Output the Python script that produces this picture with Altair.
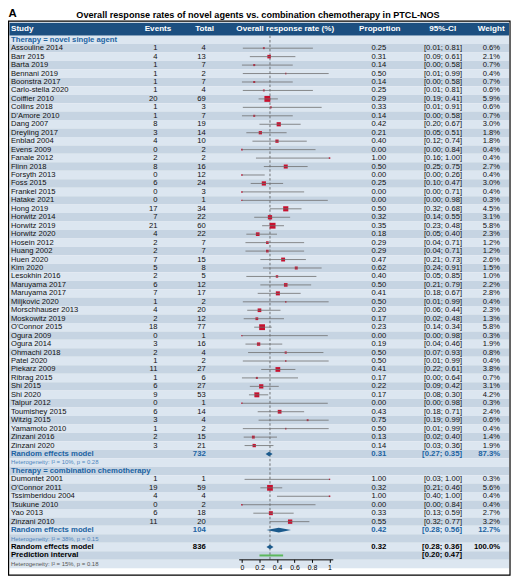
import altair as alt
import pandas as pd

FONT = "Arial"

# novel single agent studies
novel_study = ["Assouline 2014", "Barr 2015", "Barta 2019", "Bennani 2019", "Boonstra 2017",
               "Carlo-stella 2020", "Coiffier 2010", "Collins 2018", "D'Amore 2010", "Dang 2007",
               "Dreyling 2017", "Enblad 2004", "Evens 2009", "Fanale 2012", "Flinn 2018",
               "Forsyth 2013", "Foss 2015", "Frankel 2015", "Hatake 2021", "Hong 2019",
               "Horwitz 2014", "Horwitz 2019", "Horwitz 2020", "Hosein 2012", "Huang 2002",
               "Huen 2020", "Kim 2020", "Lesokhin 2016", "Maruyama 2017", "Maruyama 2017",
               "Miljkovic 2020", "Morschhauser 2013", "Moskowitz 2019", "O'Connor 2015", "Ogura 2009",
               "Ogura 2014", "Ohmachi 2018", "Patel 2020", "Piekarz 2009", "Ribrag 2015",
               "Shi 2015", "Shi 2020", "Talpur 2012", "Toumishey 2015", "Witzig 2015",
               "Yamamoto 2010", "Zinzani 2016", "Zinzani 2020"]
novel_events = [1, 4, 1, 1, 1, 1, 20, 1, 1, 8, 3, 4, 0, 2, 8, 0, 6, 0, 0, 17,
                7, 21, 4, 2, 2, 7, 5, 2, 6, 7, 1, 4, 2, 18, 0, 3, 2, 1, 11, 1,
                6, 9, 0, 6, 3, 1, 2, 3]
novel_total = [4, 13, 7, 2, 7, 4, 69, 3, 7, 19, 14, 10, 2, 2, 16, 12, 24, 3, 1, 34,
               22, 60, 22, 7, 7, 15, 8, 5, 12, 17, 2, 20, 12, 77, 1, 16, 4, 2, 27, 6,
               27, 53, 1, 14, 4, 2, 15, 21]
novel_prop = [0.25, 0.31, 0.14, 0.50, 0.14, 0.25, 0.29, 0.33, 0.14, 0.42, 0.21, 0.40, 0.00, 1.00, 0.50,
              0.00, 0.25, 0.00, 0.00, 0.50, 0.32, 0.35, 0.18, 0.29, 0.29, 0.47, 0.62, 0.40, 0.50, 0.41,
              0.50, 0.20, 0.17, 0.23, 0.00, 0.19, 0.50, 0.50, 0.41, 0.17, 0.22, 0.17, 0.00, 0.43, 0.75,
              0.50, 0.13, 0.14]
novel_lo = [0.01, 0.09, 0.00, 0.01, 0.00, 0.01, 0.19, 0.01, 0.00, 0.20, 0.05, 0.12, 0.00, 0.16, 0.25,
            0.00, 0.10, 0.00, 0.00, 0.32, 0.14, 0.23, 0.05, 0.04, 0.04, 0.21, 0.24, 0.05, 0.21, 0.18,
            0.01, 0.06, 0.02, 0.14, 0.00, 0.04, 0.07, 0.01, 0.22, 0.00, 0.09, 0.08, 0.00, 0.18, 0.19,
            0.01, 0.02, 0.03]
novel_hi = [0.81, 0.61, 0.58, 0.99, 0.58, 0.81, 0.41, 0.91, 0.58, 0.67, 0.51, 0.74, 0.84, 1.00, 0.75,
            0.26, 0.47, 0.71, 0.98, 0.68, 0.55, 0.48, 0.40, 0.71, 0.71, 0.73, 0.91, 0.85, 0.79, 0.67,
            0.99, 0.44, 0.48, 0.34, 0.98, 0.46, 0.93, 0.99, 0.61, 0.64, 0.42, 0.30, 0.98, 0.71, 0.99,
            0.99, 0.40, 0.36]
novel_weight = [0.6, 2.1, 0.7, 0.4, 0.7, 0.6, 5.9, 0.6, 0.7, 3.0, 1.8, 1.8, 0.4, 0.4, 2.7,
                0.4, 3.0, 0.4, 0.3, 4.5, 3.1, 5.8, 2.3, 1.2, 1.2, 2.6, 1.5, 1.0, 2.2, 2.8,
                0.4, 2.3, 1.3, 5.8, 0.3, 1.9, 0.8, 0.4, 3.8, 0.7, 3.1, 4.2, 0.3, 2.4, 0.6,
                0.4, 1.4, 1.9]

# combination chemotherapy studies
combo_study = ["Dumontet 2001", "O'Connor 2011", "Tssimberidou 2004", "Tsukune 2010", "Yao 2013", "Zinzani 2010"]
combo_events = [1, 19, 4, 0, 6, 11]
combo_total = [1, 59, 4, 2, 18, 20]
combo_prop = [1.00, 0.32, 1.00, 0.00, 0.33, 0.55]
combo_lo = [0.03, 0.21, 0.40, 0.00, 0.13, 0.32]
combo_hi = [1.00, 0.46, 1.00, 0.84, 0.59, 0.77]
combo_weight = [0.3, 5.6, 0.4, 0.4, 2.7, 3.2]

# random effects models: novel, combination, overall
re_total = [732, 104, 836]
re_prop = [0.31, 0.42, 0.32]
re_lo = [0.27, 0.28, 0.28]
re_hi = [0.35, 0.56, 0.36]
re_weight = [87.3, 12.7, 100.0]
pred_lo, pred_hi = 0.20, 0.47
het_text = ["Heterogeneity: I\u00b2 = 10%, p = 0.28",
            "Heterogeneity: I\u00b2 = 38%, p = 0.15",
            "Heterogeneity: I\u00b2 = 15%, p = 0.18"]
group_text = ["Therapy = novel single agent", "Therapy = combination chemotherapy"]

BLUE = "#2063a2"
RED = "#c8102e"


def ci_str(lo, hi):
    return f"[{lo:.2f}; {hi:.2f}]"


rows = []


def add(kind, study="", events="", total="", prop="", ci="", weight="", est=None, lo=None, hi=None, w=None):
    rows.append(dict(row=len(rows), kind=kind, study=study, events=events, total=total,
                     prop=prop, ci=ci, weight=weight, est=est, lo=lo, hi=hi, w=w))


def add_group(idx, study, events, total, prop, lo, hi, weight):
    add("group", study=group_text[idx])
    for s, e, t, p, l, h, w in zip(study, events, total, prop, lo, hi, weight):
        add("study", s, str(e), str(t), f"{p:.2f}", ci_str(l, h), f"{w:.1f}%", p, l, h, w)
    add("summary", "Random effects model", total=str(re_total[idx]), prop=f"{re_prop[idx]:.2f}",
        ci=ci_str(re_lo[idx], re_hi[idx]), weight=f"{re_weight[idx]:.1f}%")
    add("het", het_text[idx])


add_group(0, novel_study, novel_events, novel_total, novel_prop, novel_lo, novel_hi, novel_weight)
add_group(1, combo_study, combo_events, combo_total, combo_prop, combo_lo, combo_hi, combo_weight)
add("overall", "Random effects model", total=str(re_total[2]), prop=f"{re_prop[2]:.2f}",
    ci=ci_str(re_lo[2], re_hi[2]), weight=f"{re_weight[2]:.1f}%")
add("overall", "Prediction interval", ci=ci_str(pred_lo, pred_hi))
add("het_all", het_text[2])

table = pd.DataFrame(rows)
studies = table[table["kind"] == "study"]
summary_rows = table[table["kind"].isin(["summary", "overall"])]["row"].tolist()[:3]
pi_row = table[table["kind"] == "overall"]["row"].tolist()[1]

# diamond outline points for the three random effects models
diamond = []
for i in range(3):
    for x, mid in [(re_lo[i], 0), (re_prop[i], 1), (re_hi[i], 0)]:
        diamond.append(dict(grp=i, row=summary_rows[i], x=x, mid=mid))
diamond = pd.DataFrame(diamond)

pred = pd.DataFrame({"row": [pi_row], "lo": [pred_lo], "hi": [pred_hi]})
overall = pd.DataFrame({"est": [re_prop[2]]})
dummy = pd.DataFrame({"a": [0]})

yscale = alt.Scale(domain=[0, 62], range=[29.2, 558.6], nice=False, zero=False)
xscale = alt.Scale(domain=[-0.037, 1.037], range=[233, 328], nice=False, zero=False)
xaxis = alt.Axis(values=[0, 0.2, 0.4, 0.6, 0.8, 1], format="~g", title="", grid=False, zindex=2,
                 domainColor="black", tickColor="black", tickSize=3, domainWidth=1, tickWidth=1,
                 labelFont=FONT, labelFontSize=7, labelColor="black", labelPadding=1.5)

stripes = alt.Chart(table).mark_rect().transform_calculate(
    top="datum.row - 0.5", bot="datum.row + 0.5"
).encode(
    x=alt.value(1.5), x2=alt.value(506),
    y=alt.Y("top:Q", scale=yscale, axis=None), y2="bot:Q",
    color=alt.condition("datum.row % 2 == 0", alt.value("#dce6f0"), alt.value("#c6d4e2"))
)

header_bg = alt.Chart(dummy).mark_rect(color="#1c4f80").encode(
    x=alt.value(1.5), x2=alt.value(506), y=alt.value(12), y2=alt.value(25)
)
border = alt.Chart(dummy).mark_rect(fillOpacity=0, stroke="black", strokeWidth=1.2).encode(
    x=alt.value(0.6), x2=alt.value(507), y=alt.value(10.5), y2=alt.value(570)
)

layers = [stripes, header_bg, border]

# header labels
for label, x, align in [("Study", 3, "left"), ("Events", 151.5, "center"), ("Total", 198.5, "center"),
                        ("Overall response rate (%)", 280, "center"), ("Proportion", 375.5, "center"),
                        ("95%-CI", 439, "center"), ("Weight", 488, "center")]:
    layers.append(alt.Chart(dummy).mark_text(
        align=align, baseline="middle", font=FONT, fontSize=8.2, fontWeight="bold", color="white"
    ).encode(x=alt.value(x), y=alt.value(18.7), text=alt.value(label)))

# titles
layers.append(alt.Chart(dummy).mark_text(
    align="left", baseline="middle", font=FONT, fontSize=11.5, fontWeight="bold", color="black"
).encode(x=alt.value(0.5), y=alt.value(3.5), text=alt.value("A")))
layers.append(alt.Chart(dummy).mark_text(
    align="center", baseline="middle", font=FONT, fontSize=9.2, fontWeight="bold", color="black"
).encode(x=alt.value(252.5), y=alt.value(3.8),
         text=alt.value("Overall response rates of novel agents vs. combination chemotherapy in PTCL-NOS")))


def col_text(kinds, field, x, align, size=7.7, weight="normal", color="#111111"):
    return alt.Chart(table).transform_filter(
        alt.FieldOneOfPredicate(field="kind", oneOf=kinds)
    ).mark_text(
        align=align, baseline="middle", font=FONT, fontSize=size, fontWeight=weight, color=color
    ).encode(x=alt.value(x), y=alt.Y("row:Q", scale=yscale, axis=None), text=f"{field}:N")


columns = [("study", 3, "left"), ("events", 151, "right"), ("total", 199.7, "right"),
           ("prop", 382, "right"), ("ci", 458.5, "right"), ("weight", 497, "right")]
for field, x, align in columns:
    layers.append(col_text(["study"], field, x, align))
    layers.append(col_text(["summary"], field, x, align, size=7.8, weight="bold", color=BLUE))
    layers.append(col_text(["overall"], field, x, align, size=7.8, weight="bold", color="black"))
layers.append(col_text(["group"], "study", 3, "left", size=7.8, weight="bold", color=BLUE))
layers.append(col_text(["het"], "study", 3, "left", size=6, color="#4f86bd"))
layers.append(col_text(["het_all"], "study", 3, "left", size=6, color="#555555"))

# forest plot
ref_line = alt.Chart(overall).mark_rule(color="#555555", strokeDash=[2.5, 2], strokeWidth=0.8).encode(
    x=alt.X("est:Q", scale=xscale, axis=xaxis), y=alt.value(25), y2=alt.value(554)
)
squares = alt.Chart(studies).mark_square(color=RED, opacity=1).encode(
    x=alt.X("est:Q", scale=xscale, axis=xaxis),
    y=alt.Y("row:Q", scale=yscale, axis=None),
    size=alt.Size("w:Q", scale=alt.Scale(domain=[0, 6], range=[0, 36]), legend=None)
)
ci_lines = alt.Chart(studies).mark_rule(color="#6f6f6f", strokeWidth=0.8).encode(
    x=alt.X("lo:Q", scale=xscale, axis=xaxis), x2="hi:Q",
    y=alt.Y("row:Q", scale=yscale, axis=None)
)
diamonds = alt.Chart(diamond).mark_area(color="#1b5a8c", opacity=1).transform_calculate(
    y1="datum.row - 0.27 * datum.mid", y2="datum.row + 0.27 * datum.mid"
).encode(
    x=alt.X("x:Q", scale=xscale, axis=xaxis),
    y=alt.Y("y1:Q", scale=yscale, axis=None), y2="y2:Q",
    detail="grp:N"
)
pred_bar = alt.Chart(pred).mark_rule(color="#5cb85c", strokeWidth=2).encode(
    x=alt.X("lo:Q", scale=xscale, axis=xaxis), x2="hi:Q",
    y=alt.Y("row:Q", scale=yscale, axis=None)
)

layers += [ref_line, squares, ci_lines, diamonds, pred_bar]

chart = alt.layer(*layers).properties(
    width=507, height=554, autosize="none",
    padding={"left": 0, "top": 0, "right": 2, "bottom": 17},
    background="white"
).configure_view(stroke="transparent")

chart.save("out.html", embed_options={"renderer": "svg", "actions": False})
